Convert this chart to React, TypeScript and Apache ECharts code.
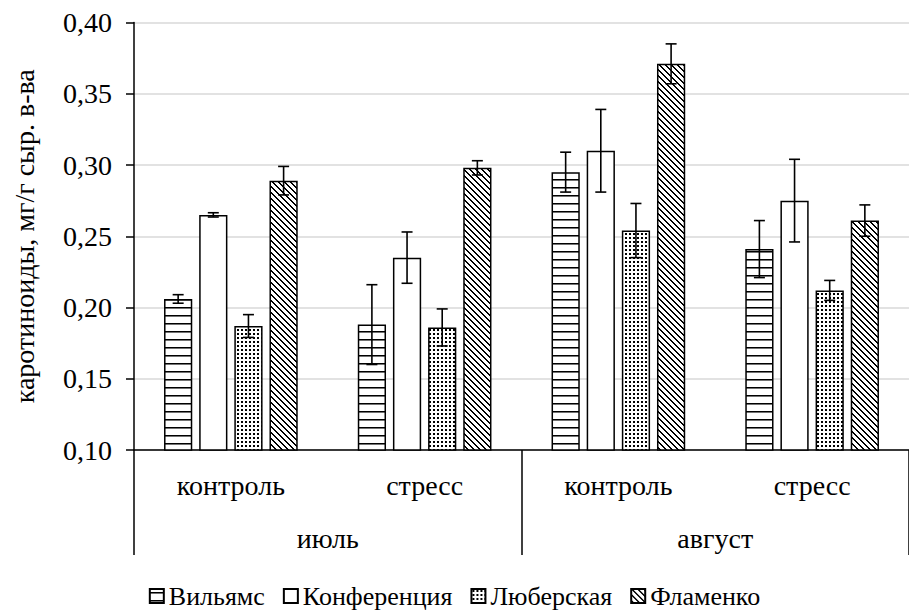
import React, { useEffect, useRef } from "react";
import * as echarts from "echarts";

const categories = ["контроль", "стресс", "контроль", "стресс"];
const months = ["июль", "август"];
const seriesNames = ["Вильямс", "Конференция", "Люберская", "Фламенко"];

const vilyams = [0.206, 0.188, 0.295, 0.241];
const vilyamsErr = [0.003, 0.028, 0.014, 0.02];
const konferenciya = [0.265, 0.235, 0.31, 0.275];
const konferenciyaErr = [0.0015, 0.018, 0.029, 0.029];
const lyuberskaya = [0.187, 0.186, 0.254, 0.212];
const lyuberskayaErr = [0.008, 0.013, 0.019, 0.007];
const flamenko = [0.289, 0.298, 0.371, 0.261];
const flamenkoErr = [0.01, 0.005, 0.014, 0.011];

const yMin = 0.1;
const yMax = 0.4;
const yStep = 0.05;

const FONT = "'Liberation Serif', 'Times New Roman', serif";
const BAR_GAP = 0.245;
const CAT_GAP = 0.31;

function makePattern(kind: string): any {
  const c = document.createElement("canvas");
  const ctx = c.getContext("2d")!;
  if (kind === "hlines") {
    c.width = 8;
    c.height = 8;
    ctx.fillStyle = "#fff";
    ctx.fillRect(0, 0, 8, 8);
    ctx.fillStyle = "#000";
    ctx.fillRect(0, 3, 8, 1);
    ctx.fillStyle = "rgba(0,0,0,0.55)";
    ctx.fillRect(0, 4, 8, 1);
  } else if (kind === "dots") {
    c.width = 4;
    c.height = 4;
    ctx.fillStyle = "#fff";
    ctx.fillRect(0, 0, 4, 4);
    ctx.fillStyle = "#000";
    ctx.fillRect(1, 1, 2, 2);
  } else if (kind === "diag") {
    c.width = 6;
    c.height = 6;
    ctx.fillStyle = "#fff";
    ctx.fillRect(0, 0, 6, 6);
    ctx.fillStyle = "#000";
    for (let i = 0; i < 6; i++) {
      ctx.fillRect(i, i, 1, 1);
      ctx.fillRect((i + 1) % 6, i, 1, 1);
    }
  } else {
    c.width = 4;
    c.height = 4;
    ctx.fillStyle = "#fff";
    ctx.fillRect(0, 0, 4, 4);
  }
  return { image: c, repeat: "repeat" };
}

export default function App() {
  const ref = useRef<HTMLDivElement>(null);
  useEffect(() => {
    if (!ref.current) return;
    const chart = echarts.init(ref.current, null, { renderer: "svg" });
    const values = [vilyams, konferenciya, lyuberskaya, flamenko];
    const errs = [vilyamsErr, konferenciyaErr, lyuberskayaErr, flamenkoErr];
    const patterns = [
      makePattern("hlines"),
      makePattern("white"),
      makePattern("dots"),
      makePattern("diag"),
    ];

    const barSeries = seriesNames.map((name, si) => ({
      name,
      type: "bar",
      xAxisIndex: 0,
      yAxisIndex: 0,
      data: values[si],
      barGap: (BAR_GAP * 100).toFixed(1) + "%",
      barCategoryGap: (CAT_GAP * 100).toFixed(0) + "%",
      itemStyle: {
        color: patterns[si],
        borderColor: "#000",
        borderWidth: 1.5,
      },
      emphasis: { disabled: true },
    }));

    const errSeries = seriesNames.map((name, si) => ({
      name: name + "_err",
      type: "custom",
      xAxisIndex: 0,
      yAxisIndex: 0,
      z: 10,
      silent: true,
      data: values[si].map((v, i) => [i, v - errs[si][i], v + errs[si][i]]),
      renderItem: (params: any, api: any) => {
        const cat = api.value(0);
        const lo = api.coord([cat, api.value(1)]);
        const hi = api.coord([cat, api.value(2)]);
        const catW = api.size([1, 0])[0];
        const groupW = catW * (1 - CAT_GAP);
        const bw = groupW / (4 + 3 * BAR_GAP);
        const x = lo[0] - groupW / 2 + si * bw * (1 + BAR_GAP) + bw / 2;
        const cap = 5.5;
        const style = { stroke: "#000", lineWidth: 1.6, fill: "none" };
        return {
          type: "group",
          children: [
            { type: "line", shape: { x1: x, y1: lo[1], x2: x, y2: hi[1] }, style },
            { type: "line", shape: { x1: x - cap, y1: lo[1], x2: x + cap, y2: lo[1] }, style },
            { type: "line", shape: { x1: x - cap, y1: hi[1], x2: x + cap, y2: hi[1] }, style },
          ],
        };
      },
    }));

    chart.setOption({
      animation: false,
      backgroundColor: "#fff",
      textStyle: { fontFamily: FONT, color: "#000" },
      grid: { left: 134, right: -11, top: 22.5, bottom: 160, containLabel: false },
      legend: {
        data: seriesNames,
        top: 578,
        left: "center",
        icon: "rect",
        itemWidth: 14,
        itemHeight: 14,
        itemGap: 18,
        textStyle: { fontFamily: FONT, fontSize: 26, color: "#000" },
        selectedMode: false,
      },
      xAxis: [
        {
          type: "category",
          data: categories,
          position: "bottom",
          axisLine: { show: true, onZero: false, lineStyle: { color: "#000", width: 1.5 } },
          axisTick: { show: false },
          axisLabel: { margin: 21, fontSize: 28, fontFamily: FONT, color: "#000" },
        },
        {
          type: "category",
          data: months,
          position: "bottom",
          gridIndex: 0,
          axisLine: { show: false },
          axisTick: { show: true, length: 105, lineStyle: { color: "#000", width: 1.5 } },
          axisLabel: { margin: 74, fontSize: 28, fontFamily: FONT, color: "#000" },
        },
      ],
      yAxis: {
        type: "value",
        min: yMin,
        max: yMax,
        interval: yStep,
        name: "каротиноиды, мг/г сыр. в-ва",
        nameLocation: "middle",
        nameRotate: 90,
        nameGap: 96,
        nameTextStyle: { fontFamily: FONT, fontSize: 28, color: "#000" },
        axisLine: { show: true, lineStyle: { color: "#000", width: 1.5 } },
        axisTick: { show: true, length: 8, lineStyle: { color: "#000", width: 1.5 } },
        axisLabel: {
          margin: 22,
          fontSize: 28,
          fontFamily: FONT,
          color: "#000",
          formatter: (v: number) => v.toFixed(2).replace(".", ","),
        },
        splitLine: { show: true, lineStyle: { color: "#d9d9d9", width: 1.5 } },
      },
      series: [...barSeries, ...errSeries],
    });
    return () => chart.dispose();
  }, []);
  return (
    <div
      ref={ref}
      style={{ position: "fixed", left: 0, top: 0, width: 909, height: 610, background: "#fff" }}
    />
  );
}
